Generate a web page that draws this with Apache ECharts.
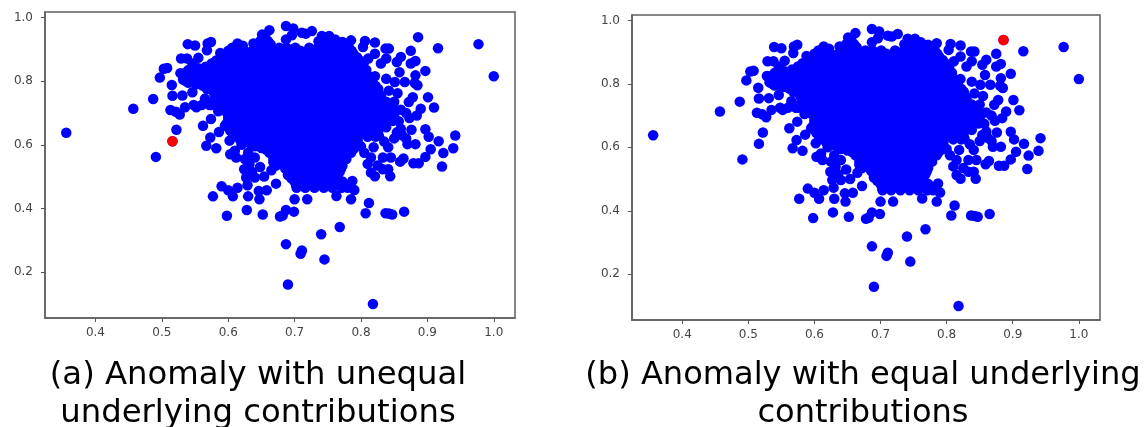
<!DOCTYPE html>
<html><head><meta charset="utf-8">
<style>html,body{margin:0;padding:0;background:#fff}#c{width:1144px;height:427px}#c canvas{filter:blur(.4px)}</style>
<script src="https://cdn.jsdelivr.net/npm/echarts@6/dist/echarts.min.js"></script>
</head><body><div id="c"></div>
<script>
const xTicks=[0.4,0.5,0.6,0.7,0.8,0.9,1.0];
const yTicks=[0.2,0.4,0.6,0.8,1.0];
const captionA="(a) Anomaly with unequal\nunderlying contributions";
const captionB="(b) Anomaly with equal underlying\ncontributions";
const anomalyA=[0.886,0.938];
const anomalyB=[0.516,0.611];
// individually read outer points
const outerPoints=[[.356,.638],[.457,.713],[.487,.744],[.491,.562],[.497,.811],[.503,.839],[.508,.841],[.522,.647],[.513,.709],[.521,.704],[.527,.695],[.516,.754],[.515,.788],[.531,.755],[.535,.718],[.552,.718],[.546,.765],[.529,.871],[.538,.871],[.546,.855],[.555,.873],[.539,.916],[.550,.912],[.568,.897],[.569,.918],[.574,.923],[.588,.888],[.582,.849],[.562,.660],[.574,.681],[.573,.623],[.567,.597],[.582,.589],[.603,.570],[.610,.581],[.612,.560],[.602,.613],[.624,.523],[.632,.539],[.627,.497],[.640,.497],[.654,.500],[.629,.473],[.590,.470],[.600,.457],[.614,.465],[.577,.438],[.607,.438],[.630,.438],[.646,.455],[.658,.457],[.647,.429],[.672,.478],[.598,.377],[.628,.395],[.652,.381],[.678,.375],[.682,.378],[.687,.395],[.699,.390],[.700,.429],[.719,.429],[.763,.439],[.785,.429],[.790,.458],[.780,.465],[.787,.486],[.821,.501],[.812,.417],[.807,.385],[.837,.385],[.847,.381],[.842,.384],[.865,.390],[.844,.501],[.841,.523],[.833,.523],[.815,.513],[.768,.342],[.740,.319],[.687,.288],[.711,.268],[.709,.258],[.745,.240],[.690,.161],[.818,.100],[.916,.903],[.977,.916],[1.0,.815],[.875,.895],[.860,.876],[.854,.860],[.882,.863],[.875,.855],[.858,.828],[.897,.832],[.882,.818],[.881,.794],[.885,.787],[.866,.797],[.901,.749],[.878,.749],[.872,.734],[.855,.762],[.910,.717],[.890,.713],[.884,.692],[.873,.684],[.857,.674],[.897,.649],[.876,.647],[.902,.625],[.917,.611],[.942,.629],[.939,.589],[.924,.574],[.922,.532],[.905,.586],[.897,.562],[.887,.542],[.879,.542],[.882,.602],[.870,.602],[.854,.639],[.864,.557],[.859,.547],[.841,.592],[.833,.560],[.819,.592],[.827,.628],[.806,.644],[.821,.921],[.806,.926],[.803,.907],[.785,.928],[.837,.902],[.842,.902],[.821,.886],[.811,.871],[.838,.871],[.830,.855],[.821,.815],[.838,.807],[.851,.797],[.687,.973],[.698,.965],[.711,.952],[.717,.949],[.726,.957],[.741,.942],[.752,.942],[.761,.931],[.772,.923],[.662,.960],[.651,.946],[.656,.937],[.687,.931],[.696,.944],[.638,.918],[.614,.918],[.622,.911],[.614,.876],[.603,.876],[.516,.611],[.886,.938],[.536,.800],[.528,.825],[.540,.835],[.555,.840],[.552,.790],[.565,.745],[.575,.725],[.586,.640],[.595,.660],[.585,.705],[.845,.560],[.835,.610],[.850,.620],[.862,.630],[.868,.620],[.845,.680],[.860,.710],[.868,.700],[.850,.735],[.842,.770],[.860,.650],[.815,.560],[.805,.575],[.800,.595],[.825,.535],[.810,.540],[.625,.555],[.640,.560],[.648,.530],[.636,.515],[.665,.520],[.620,.600],[.630,.575],[.650,.590]];
// cloud body read row by row: y of the row, then the x values covered on that row
const cloudRowY=[.925,.905,.885,.865,.845,.825,.805,.785,.765,.745,.725,.705,.685,.665,.645,.625,.605,.585,.565,.545,.525,.505,.485,.465];
const cloudRowX=[
[.648,.660,.736,.750,.762],
[.606,.618,.641,.652,.664,.677,.688,.701,.722,.735,.746,.758,.771,.782],
[.596,.608,.621,.632,.644,.657,.668,.680,.693,.704,.716,.729,.740,.752,.765,.776,.789],
[.582,.594,.607,.618,.630,.643,.654,.666,.679,.690,.702,.715,.726,.738,.751,.762,.774,.787,.798],
[.566,.578,.589,.601,.613,.624,.637,.648,.660,.673,.684,.696,.709,.720,.732,.745,.756,.768,.781,.792,.803],
[.534,.546,.558,.571,.582,.595,.607,.618,.631,.642,.654,.667,.678,.690,.703,.714,.726,.739,.750,.762,.775,.786,.797,.806],
[.532,.543,.555,.566,.577,.589,.601,.612,.625,.636,.648,.661,.672,.684,.697,.708,.720,.733,.744,.756,.769,.780,.792,.804,.812],
[.562,.574,.585,.595,.607,.619,.630,.642,.655,.666,.678,.691,.702,.714,.727,.738,.750,.763,.774,.786,.798,.810,.822],
[.578,.590,.601,.613,.624,.636,.649,.660,.672,.685,.696,.708,.721,.732,.744,.757,.768,.780,.792,.804,.816,.826],
[.584,.595,.607,.618,.630,.643,.654,.666,.679,.690,.702,.715,.726,.738,.751,.762,.774,.786,.798,.810,.820,.830],
[.548,.560,.572,.589,.601,.612,.624,.637,.648,.660,.673,.684,.696,.709,.720,.732,.745,.756,.768,.780,.792,.804,.816,.828,.838],
[.596,.607,.618,.631,.642,.654,.667,.678,.690,.703,.714,.726,.739,.750,.762,.774,.786,.798,.810,.822,.834,.846],
[.600,.612,.625,.636,.648,.661,.672,.684,.697,.708,.720,.733,.744,.756,.768,.780,.792,.804,.816,.828,.842],
[.597,.607,.619,.630,.642,.655,.666,.678,.691,.702,.714,.727,.738,.750,.762,.774,.786,.798,.810,.822,.834],
[.603,.613,.624,.636,.649,.660,.672,.685,.696,.708,.721,.732,.744,.756,.768,.780,.792,.815,.826],
[.607,.618,.630,.643,.654,.666,.679,.690,.702,.715,.726,.738,.750,.762,.774,.786,.810,.822],
[.632,.648,.660,.673,.684,.696,.709,.720,.732,.744,.756,.768,.780,.792],
[.657,.670,.682,.695,.706,.718,.730,.742,.754,.766,.778,.788],
[.670,.681,.692,.704,.716,.728,.740,.752,.764,.774],
[.668,.680,.692,.703,.715,.727,.739,.751,.763,.771],
[.686,.698,.709,.725,.737,.749,.761,.770],
[.690,.702,.716,.730,.742,.754,.764],
[.700,.712,.724,.736,.748,.760,.772],
[.703,.716,.730,.744,.757,.771]
];
// second reading of the cloud body, on the rows in between
const fillRowY=[.915,.895,.875,.855,.835,.815,.795,.775,.755,.735,.715,.695,.675,.655,.635,.615,.595,.575,.555,.535,.515,.495,.475];
const fillRowX=[
[.652,.664,.740,.754,.768],
[.600,.612,.625,.637,.649,.661,.673,.685,.697,.709,.726,.738,.750,.762,.774,.786],
[.589,.601,.614,.626,.638,.650,.662,.674,.686,.698,.710,.722,.734,.746,.758,.770,.782,.794],
[.575,.588,.600,.612,.624,.636,.648,.660,.672,.684,.696,.708,.720,.732,.744,.756,.768,.780,.792,.804],
[.550,.562,.575,.595,.607,.619,.631,.643,.655,.667,.679,.691,.703,.715,.727,.739,.751,.763,.775,.787,.799,.808],
[.540,.552,.565,.577,.590,.602,.614,.626,.638,.650,.662,.674,.686,.698,.710,.722,.734,.746,.758,.770,.782,.794,.806,.812],
[.540,.552,.570,.582,.594,.606,.618,.630,.642,.654,.666,.678,.690,.702,.714,.726,.738,.750,.762,.774,.786,.798,.810,.816],
[.568,.580,.592,.604,.616,.628,.640,.652,.664,.676,.688,.700,.712,.724,.736,.748,.760,.772,.784,.796,.808,.818,.826],
[.580,.592,.604,.616,.628,.640,.652,.664,.676,.688,.700,.712,.724,.736,.748,.760,.772,.784,.796,.808,.820,.830],
[.578,.590,.602,.614,.626,.638,.650,.662,.674,.686,.698,.710,.722,.734,.746,.758,.770,.782,.794,.806,.818,.830,.838],
[.590,.602,.614,.626,.638,.650,.662,.674,.686,.698,.710,.722,.734,.746,.758,.770,.782,.794,.806,.818,.830,.842,.848],
[.600,.612,.624,.636,.648,.660,.672,.684,.696,.708,.720,.732,.744,.756,.768,.780,.792,.804,.816,.828,.840,.850],
[.600,.612,.624,.636,.648,.660,.672,.684,.696,.708,.720,.732,.744,.756,.768,.780,.792,.804,.816,.828,.840,.848],
[.600,.612,.624,.636,.648,.660,.672,.684,.696,.708,.720,.732,.744,.756,.768,.780,.792,.804,.816,.828,.838],
[.610,.622,.634,.646,.658,.670,.682,.694,.706,.718,.730,.742,.754,.766,.778,.790,.800,.820],
[.618,.632,.646,.658,.670,.682,.694,.706,.718,.730,.742,.754,.766,.778,.790,.795],
[.640,.652,.664,.676,.688,.700,.712,.724,.736,.748,.760,.772,.784,.795],
[.662,.674,.686,.698,.710,.722,.734,.746,.758,.770,.785],
[.668,.680,.692,.704,.716,.728,.740,.752,.764,.778],
[.672,.684,.696,.708,.720,.732,.744,.756,.768,.772],
[.690,.702,.714,.726,.738,.750,.762,.768],
[.695,.706,.720,.734,.746,.758,.765],
[.702,.716,.728,.740,.752,.764,.775]
];
const cloud=outerPoints
  .concat(cloudRowY.flatMap((y,i)=>cloudRowX[i].map(x=>[x,y])))
  .concat(fillRowY.flatMap((y,i)=>fillRowX[i].map(x=>[x,y])));
const axisBase=(ticks,isX)=>({type:'value',
  min:isX?0.324:0.056,max:isX?1.032:1.017,
  splitLine:{show:false},
  axisLine:{show:true,onZero:false,lineStyle:{color:'#5f5f5f',width:1.5}},
  axisTick:{show:true,length:4,lineStyle:{color:'#555',width:1},customValues:ticks},
  axisLabel:{show:true,color:'#444',fontFamily:'DejaVu Sans',fontSize:12,margin:isX?9:12,customValues:ticks,formatter:v=>v.toFixed(1)}
});
const scatter=(gi,data,color,z)=>({type:'scatter',xAxisIndex:gi,yAxisIndex:gi,data,symbolSize:10.5,itemStyle:{color,opacity:1},z,silent:true,animation:false,large:false});
const option={
  animation:false,backgroundColor:'#fff',
  grid:[
    {left:45,top:12,width:470,height:306,show:true,borderColor:'#5f5f5f',borderWidth:1.5,backgroundColor:'#fff'},
    {left:632,top:15,width:468,height:305,show:true,borderColor:'#5f5f5f',borderWidth:1.5,backgroundColor:'#fff'}
  ],
  xAxis:[Object.assign(axisBase(xTicks,true),{gridIndex:0}),Object.assign(axisBase(xTicks,true),{gridIndex:1})],
  yAxis:[Object.assign(axisBase(yTicks,false),{gridIndex:0}),Object.assign(axisBase(yTicks,false),{gridIndex:1})],
  title:[
    {text:captionA,left:253,top:352,textAlign:'center',textStyle:{fontFamily:'DejaVu Sans',fontWeight:'normal',fontSize:32.3,lineHeight:38,color:'#000'}},
    {text:captionB,left:858,top:352,textAlign:'center',textStyle:{fontFamily:'DejaVu Sans',fontWeight:'normal',fontSize:32.1,lineHeight:38,color:'#000'}}
  ],
  series:[
    scatter(0,cloud,'#0000ff',2),scatter(0,[anomalyB],'#ff0000',3),
    scatter(1,cloud,'#0000ff',2),scatter(1,[anomalyA],'#ff0000',3)
  ]
};
const chart=echarts.init(document.getElementById('c'),null,{renderer:'canvas',width:1144,height:427});
chart.setOption(option);
</script></body></html>
